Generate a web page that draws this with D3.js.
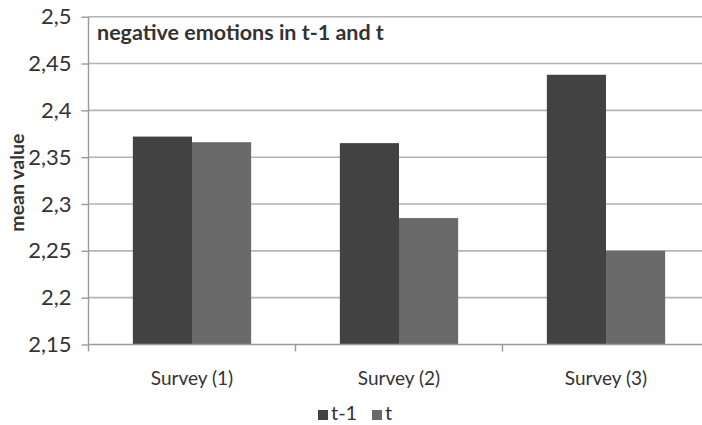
<!DOCTYPE html>
<html>
<head>
<meta charset="utf-8">
<script src="https://cdn.jsdelivr.net/npm/d3@7"></script>
<style>
  html, body { margin: 0; padding: 0; background: #fff; }
  svg { display: block; }
  text { font-family: Lato, "Open Sans", sans-serif; fill: #333; }
</style>
</head>
<body>
<svg id="chart" width="702" height="425"></svg>
<script>
// Mean negative-emotion scores per survey wave
const categories = ["Survey (1)", "Survey (2)", "Survey (3)"];
const series = ["t-1", "t"];
const valuesT1 = [2.372, 2.365, 2.438];
const valuesT = [2.366, 2.285, 2.250];
const yTicks = [2.15, 2.2, 2.25, 2.3, 2.35, 2.4, 2.45, 2.5];
const seriesColors = ["#424242", "#6a6a6a"];

const svg = d3.select("#chart");
const W = 702, H = 425;

const plot = { left: 88.5, right: 709.5, top: 16.7, bottom: 344.5 };

const y = d3.scaleLinear().domain([2.15, 2.5]).range([plot.bottom, plot.top]);
const x = d3.scaleBand().domain(categories).range([plot.left, plot.right]).padding(0);
const xs = d3.scaleBand().domain(series).range([0, x.bandwidth()])
  .paddingInner(0).paddingOuter(0.75);

const fmt = v => d3.format("")(+v.toFixed(2)).replace(".", ",");

// horizontal gridlines
svg.append("g")
  .selectAll("line")
  .data(yTicks.filter(v => v > 2.15))
  .join("line")
  .attr("x1", plot.left).attr("x2", W)
  .attr("y1", d => y(d)).attr("y2", d => y(d))
  .attr("stroke", "#b4b4b4").attr("stroke-width", 1.6);

// y axis
const yAxis = svg.append("g")
  .attr("transform", `translate(${plot.left},0)`)
  .call(d3.axisLeft(y).tickValues(yTicks).tickFormat(fmt).tickSize(7).tickPadding(10));
yAxis.select(".domain").remove();
yAxis.selectAll(".tick line").attr("stroke", "#9a9a9a").attr("stroke-width", 1.4);
yAxis.selectAll(".tick text").attr("font-size", 22).attr("fill", "#333")
  .attr("font-family", "Lato, sans-serif");
svg.append("line")
  .attr("x1", plot.left).attr("x2", plot.left)
  .attr("y1", plot.top).attr("y2", plot.bottom + 7)
  .attr("stroke", "#9a9a9a").attr("stroke-width", 1.4);

// bars
const rows = categories.map((c, i) => ({ cat: c, vals: [valuesT1[i], valuesT[i]] }));
svg.append("g")
  .selectAll("g")
  .data(rows)
  .join("g")
  .attr("transform", d => `translate(${x(d.cat)},0)`)
  .selectAll("rect")
  .data(d => d.vals.map((v, j) => ({ s: series[j], v, j })))
  .join("rect")
  .attr("x", d => xs(d.s))
  .attr("width", xs.bandwidth())
  .attr("y", d => y(d.v))
  .attr("height", d => y(2.15) - y(d.v))
  .attr("fill", d => seriesColors[d.j]);

// x axis
svg.append("line")
  .attr("x1", plot.left).attr("x2", W)
  .attr("y1", plot.bottom).attr("y2", plot.bottom)
  .attr("stroke", "#9a9a9a").attr("stroke-width", 1.6);
svg.append("g")
  .selectAll("line")
  .data(categories.slice(1))
  .join("line")
  .attr("x1", d => x(d)).attr("x2", d => x(d))
  .attr("y1", plot.bottom).attr("y2", plot.bottom + 7)
  .attr("stroke", "#9a9a9a").attr("stroke-width", 1.4);
svg.append("g")
  .selectAll("text")
  .data(categories)
  .join("text")
  .attr("x", d => x(d) + x.bandwidth() / 2)
  .attr("y", 385)
  .attr("text-anchor", "middle")
  .attr("font-size", 19)
  .text(d => d);

// title inside the plot
svg.append("text")
  .attr("x", 97).attr("y", 40)
  .attr("font-size", 21.5).attr("font-weight", "bold").attr("fill", "#111")
  .text("negative emotions in t-1 and t");

// y axis title
svg.append("text")
  .attr("transform", `translate(24,${(plot.top + plot.bottom) / 2 + 2}) rotate(-90)`)
  .attr("text-anchor", "middle")
  .attr("font-size", 19.5).attr("font-weight", "bold").attr("fill", "#111")
  .text("mean value");

// legend
const legend = svg.append("g").attr("transform", "translate(318,420)");
const legendX = [0, 54];
series.forEach((s, i) => {
  const g = legend.append("g").attr("transform", `translate(${legendX[i]},0)`);
  g.append("rect").attr("x", 0).attr("y", -10).attr("width", 10).attr("height", 10)
    .attr("fill", seriesColors[i]);
  g.append("text").attr("x", 13).attr("y", 0).attr("font-size", 20).text(s);
});
</script>
</body>
</html>
